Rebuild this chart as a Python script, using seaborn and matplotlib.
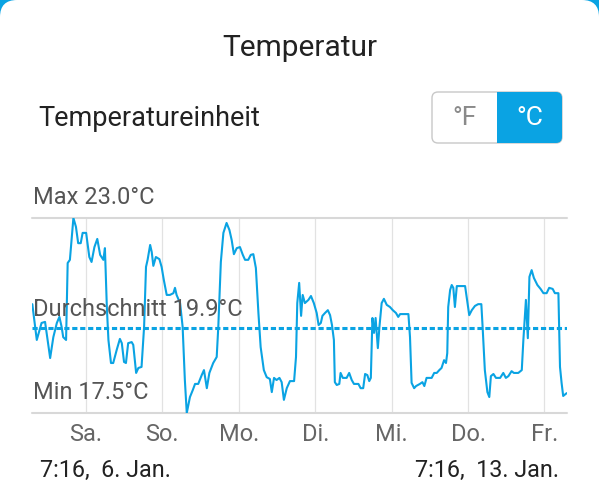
import numpy as np
import seaborn as sns
import matplotlib.pyplot as plt
from matplotlib.patches import FancyBboxPatch, Rectangle

# hours since 7:16 on 6 Jan
hours = [0.1, 1.5, 3.0, 4.1, 5.7, 6.7, 7.8, 8.6, 9.3, 9.8, 10.7, 11.2, 11.9, 13.0, 13.8,
         14.5, 15.3, 15.9, 17.0, 18.0, 18.7, 19.6, 20.5, 21.4, 22.4, 22.9, 23.5, 24.0, 24.8,
         25.5, 26.6, 27.6, 28.2, 28.9, 29.5, 30.2, 31.3, 31.8, 32.7, 33.4, 34.4, 35.2, 35.8,
         36.3, 37.1, 37.6, 38.1, 38.9, 40.0, 40.7, 41.4, 42.3, 43.3, 44.4, 44.9, 45.4, 46.5,
         47.3, 48.0, 48.6, 49.6, 50.5, 51.2, 52.2, 53.3, 54.0, 54.9, 55.7, 56.9, 58.0, 58.5,
         59.3, 60.1, 61.1, 62.0, 62.7, 63.4, 64.3, 65.3, 66.2, 66.9, 67.9, 68.7, 69.5, 70.3,
         71.1, 71.8, 72.8, 73.7, 74.7, 75.3, 76.0, 76.8, 77.7, 78.4, 79.1, 80.0, 81.0, 82.3,
         82.9, 83.3, 83.9, 84.5, 85.0, 85.7, 86.8, 87.6, 88.5, 89.4, 90.0, 90.7, 91.2, 92.0,
         92.9, 93.6, 94.2, 94.8, 95.1, 95.7, 96.5, 96.9, 97.6, 98.8, 99.6, 100.4, 101.1,
         102.5, 103.2, 104.0, 104.6, 105.3, 105.9, 106.4, 106.9, 107.4, 107.9, 108.6, 109.1,
         109.8, 110.5, 111.4, 112.4, 113.3, 114.3, 115.0, 115.6, 118.2, 118.7, 119.2, 120.0,
         120.6, 121.8, 122.6, 123.2, 123.9, 125.5, 126.3, 127.1, 127.9, 128.6, 129.4, 130.0,
         130.4, 130.7, 131.3, 131.8, 132.3, 132.8, 133.4, 136.0, 136.5, 137.3, 138.1, 139.1,
         140.1, 141.1, 141.5, 142.2, 143.0, 143.6, 144.1, 144.9, 145.7, 147.0, 148.0, 148.8,
         149.6, 150.6, 151.3, 152.7, 153.8, 154.3, 155.1, 155.7, 156.2, 156.9, 157.6, 158.7,
         159.7, 160.6, 161.6, 162.4, 163.5, 164.2, 165.3, 165.8, 166.3, 166.8, 167.9]

temps = [20.57, 19.56, 20.04, 20.07, 19.05, 19.64, 20.04, 20.21, 19.93, 19.64, 19.56, 21.73,
         21.82, 23.00, 22.75, 22.29, 22.29, 22.58, 22.58, 21.90, 21.76, 22.18, 22.41, 21.96,
         21.82, 22.15, 20.49, 19.56, 18.91, 18.91, 19.28, 19.59, 19.47, 18.94, 18.91, 19.47,
         19.50, 19.42, 18.63, 18.77, 18.80, 19.93, 21.62, 21.82, 22.24, 22.04, 21.65, 21.90,
         21.84, 21.62, 21.25, 20.83, 20.83, 20.88, 21.03, 20.83, 20.60, 19.93, 18.43, 17.50,
         17.95, 18.15, 18.32, 18.32, 18.57, 18.71, 18.20, 18.63, 18.91, 19.08, 19.93, 21.76,
         22.58, 22.86, 22.66, 22.38, 21.98, 22.15, 22.18, 21.96, 21.82, 21.82, 21.96, 21.98,
         21.59, 20.32, 19.36, 18.71, 18.51, 18.46, 18.09, 18.49, 18.43, 18.49, 18.37, 17.87,
         18.20, 18.40, 18.40, 19.08, 20.60, 21.17, 20.24, 20.83, 20.60, 20.69, 20.80, 20.60,
         20.32, 19.98, 20.04, 20.24, 20.32, 20.40, 20.26, 19.98, 19.56, 18.37, 18.29, 18.32,
         18.63, 18.49, 18.49, 18.63, 18.43, 18.32, 18.32, 18.20, 18.20, 18.60, 18.57, 18.40,
         18.49, 20.18, 19.76, 20.18, 19.33, 19.93, 20.60, 20.72, 20.55, 20.49, 20.40, 20.32,
         20.21, 20.29, 20.29, 19.64, 18.35, 18.20, 18.26, 18.32, 18.37, 18.26, 18.49, 18.49,
         18.63, 18.63, 18.71, 18.77, 18.99, 18.91, 19.19, 20.49, 20.97, 21.11, 21.03, 20.49,
         21.08, 21.08, 20.77, 20.26, 20.40, 20.52, 20.57, 20.57, 19.93, 18.71, 18.09, 17.95,
         18.54, 18.60, 18.49, 18.49, 18.63, 18.49, 18.54, 18.68, 18.63, 18.63, 18.71, 19.56,
         20.69, 19.61, 21.34, 21.53, 21.31, 21.11, 21.00, 20.88, 20.88, 21.03, 21.00, 20.88,
         20.88, 18.80, 18.35, 17.98, 18.06]

t_max = 23.0
t_min = 17.5
t_avg = 19.9
days = ['Sa.', 'So.', 'Mo.', 'Di.', 'Mi.', 'Do.', 'Fr.']
start_label = '7:16,  6. Jan.'
end_label = '7:16,  13. Jan.'

BLUE = '#0aa3e3'
W, H = 599, 500

sns.set_style('white')
plt.rcParams['font.family'] = ['Roboto', 'DejaVu Sans']

fig = plt.figure(figsize=(W / 100, H / 100), dpi=100)

# overlay in pixel coords for the card, texts and the unit switch
ov = fig.add_axes([0, 0, 1, 1])
ov.set_xlim(0, W)
ov.set_ylim(H, 0)
ov.axis('off')
fig.patch.set_facecolor(BLUE)
ov.add_patch(FancyBboxPatch((0, 0), W, H + 60, boxstyle='round,pad=0,rounding_size=17',
                            facecolor='white', edgecolor='none'))
ov.add_patch(Rectangle((0, 40), W, H, facecolor='white', edgecolor='none'))

ov.text(W / 2, 48, 'Temperatur', ha='center', va='center', fontsize=21.5, color='#222222')
ov.text(38, 118, 'Temperatureinheit', ha='left', va='center', fontsize=19.5, color='#222222')

box = FancyBboxPatch((432, 92), 130, 51, boxstyle='round,pad=0,rounding_size=6',
                     facecolor='white', edgecolor='#c8c8c8', lw=1)
ov.add_patch(box)
sel = Rectangle((497, 90), 67, 55, facecolor=BLUE, edgecolor='none', zorder=3)
ov.add_patch(sel)
sel.set_clip_path(box)
ov.text(465, 118, '°F', ha='center', va='center', fontsize=19, color='#8a8a8a')
ov.text(530, 118, '°C', ha='center', va='center', fontsize=19, color='white', zorder=4)

ov.text(40, 470, start_label, ha='left', va='center', fontsize=16.8, color='#222222')
ov.text(559, 470, end_label, ha='right', va='center', fontsize=16.8, color='#222222')

# chart
ax = fig.add_axes([32 / W, 87 / H, 535 / W, 195 / H])
ax.set_facecolor('none')
start_h = 7 + 16 / 60
midnights = [24.2 - start_h + 24 * i for i in range(len(days))]
for m in midnights:
    ax.axvline(m, color='#e2e2e2', lw=0.9, zorder=0)
ax.axhline(t_max, color='#d8d8d8', lw=1.5, zorder=0, clip_on=False)
ax.axhline(t_min, color='#d8d8d8', lw=1.5, zorder=0, clip_on=False)

sns.lineplot(x=hours, y=temps, ax=ax, color=BLUE, lw=1.5, zorder=3)
ax.axhline(t_avg, color=BLUE, lw=2.2, ls=(0, (1.7, 0.9)), zorder=4)

ax.set_xlim(0, 168)
ax.set_ylim(t_min, t_max)
for s in ax.spines.values():
    s.set_visible(False)
ax.set_yticks([])
ax.set_xticks(midnights)
ax.set_xticklabels(days, fontsize=17, color='#666666')
ax.tick_params(axis='x', length=0, pad=7)

lab = dict(xycoords=('axes fraction', 'data'), textcoords='offset points',
           ha='left', va='center', fontsize=17, color='#555555', zorder=5)
ax.annotate(f'Max {t_max:.1f}°C', xy=(0.002, t_max), xytext=(0, 15), **lab)
ax.annotate(f'Durchschnitt {t_avg:.1f}°C', xy=(0.002, t_avg), xytext=(0, 13), **lab)
ax.annotate(f'Min {t_min:.1f}°C', xy=(0.002, t_min), xytext=(0, 14.5), **lab)

fig.savefig('out.png', dpi=100, facecolor=fig.get_facecolor())
